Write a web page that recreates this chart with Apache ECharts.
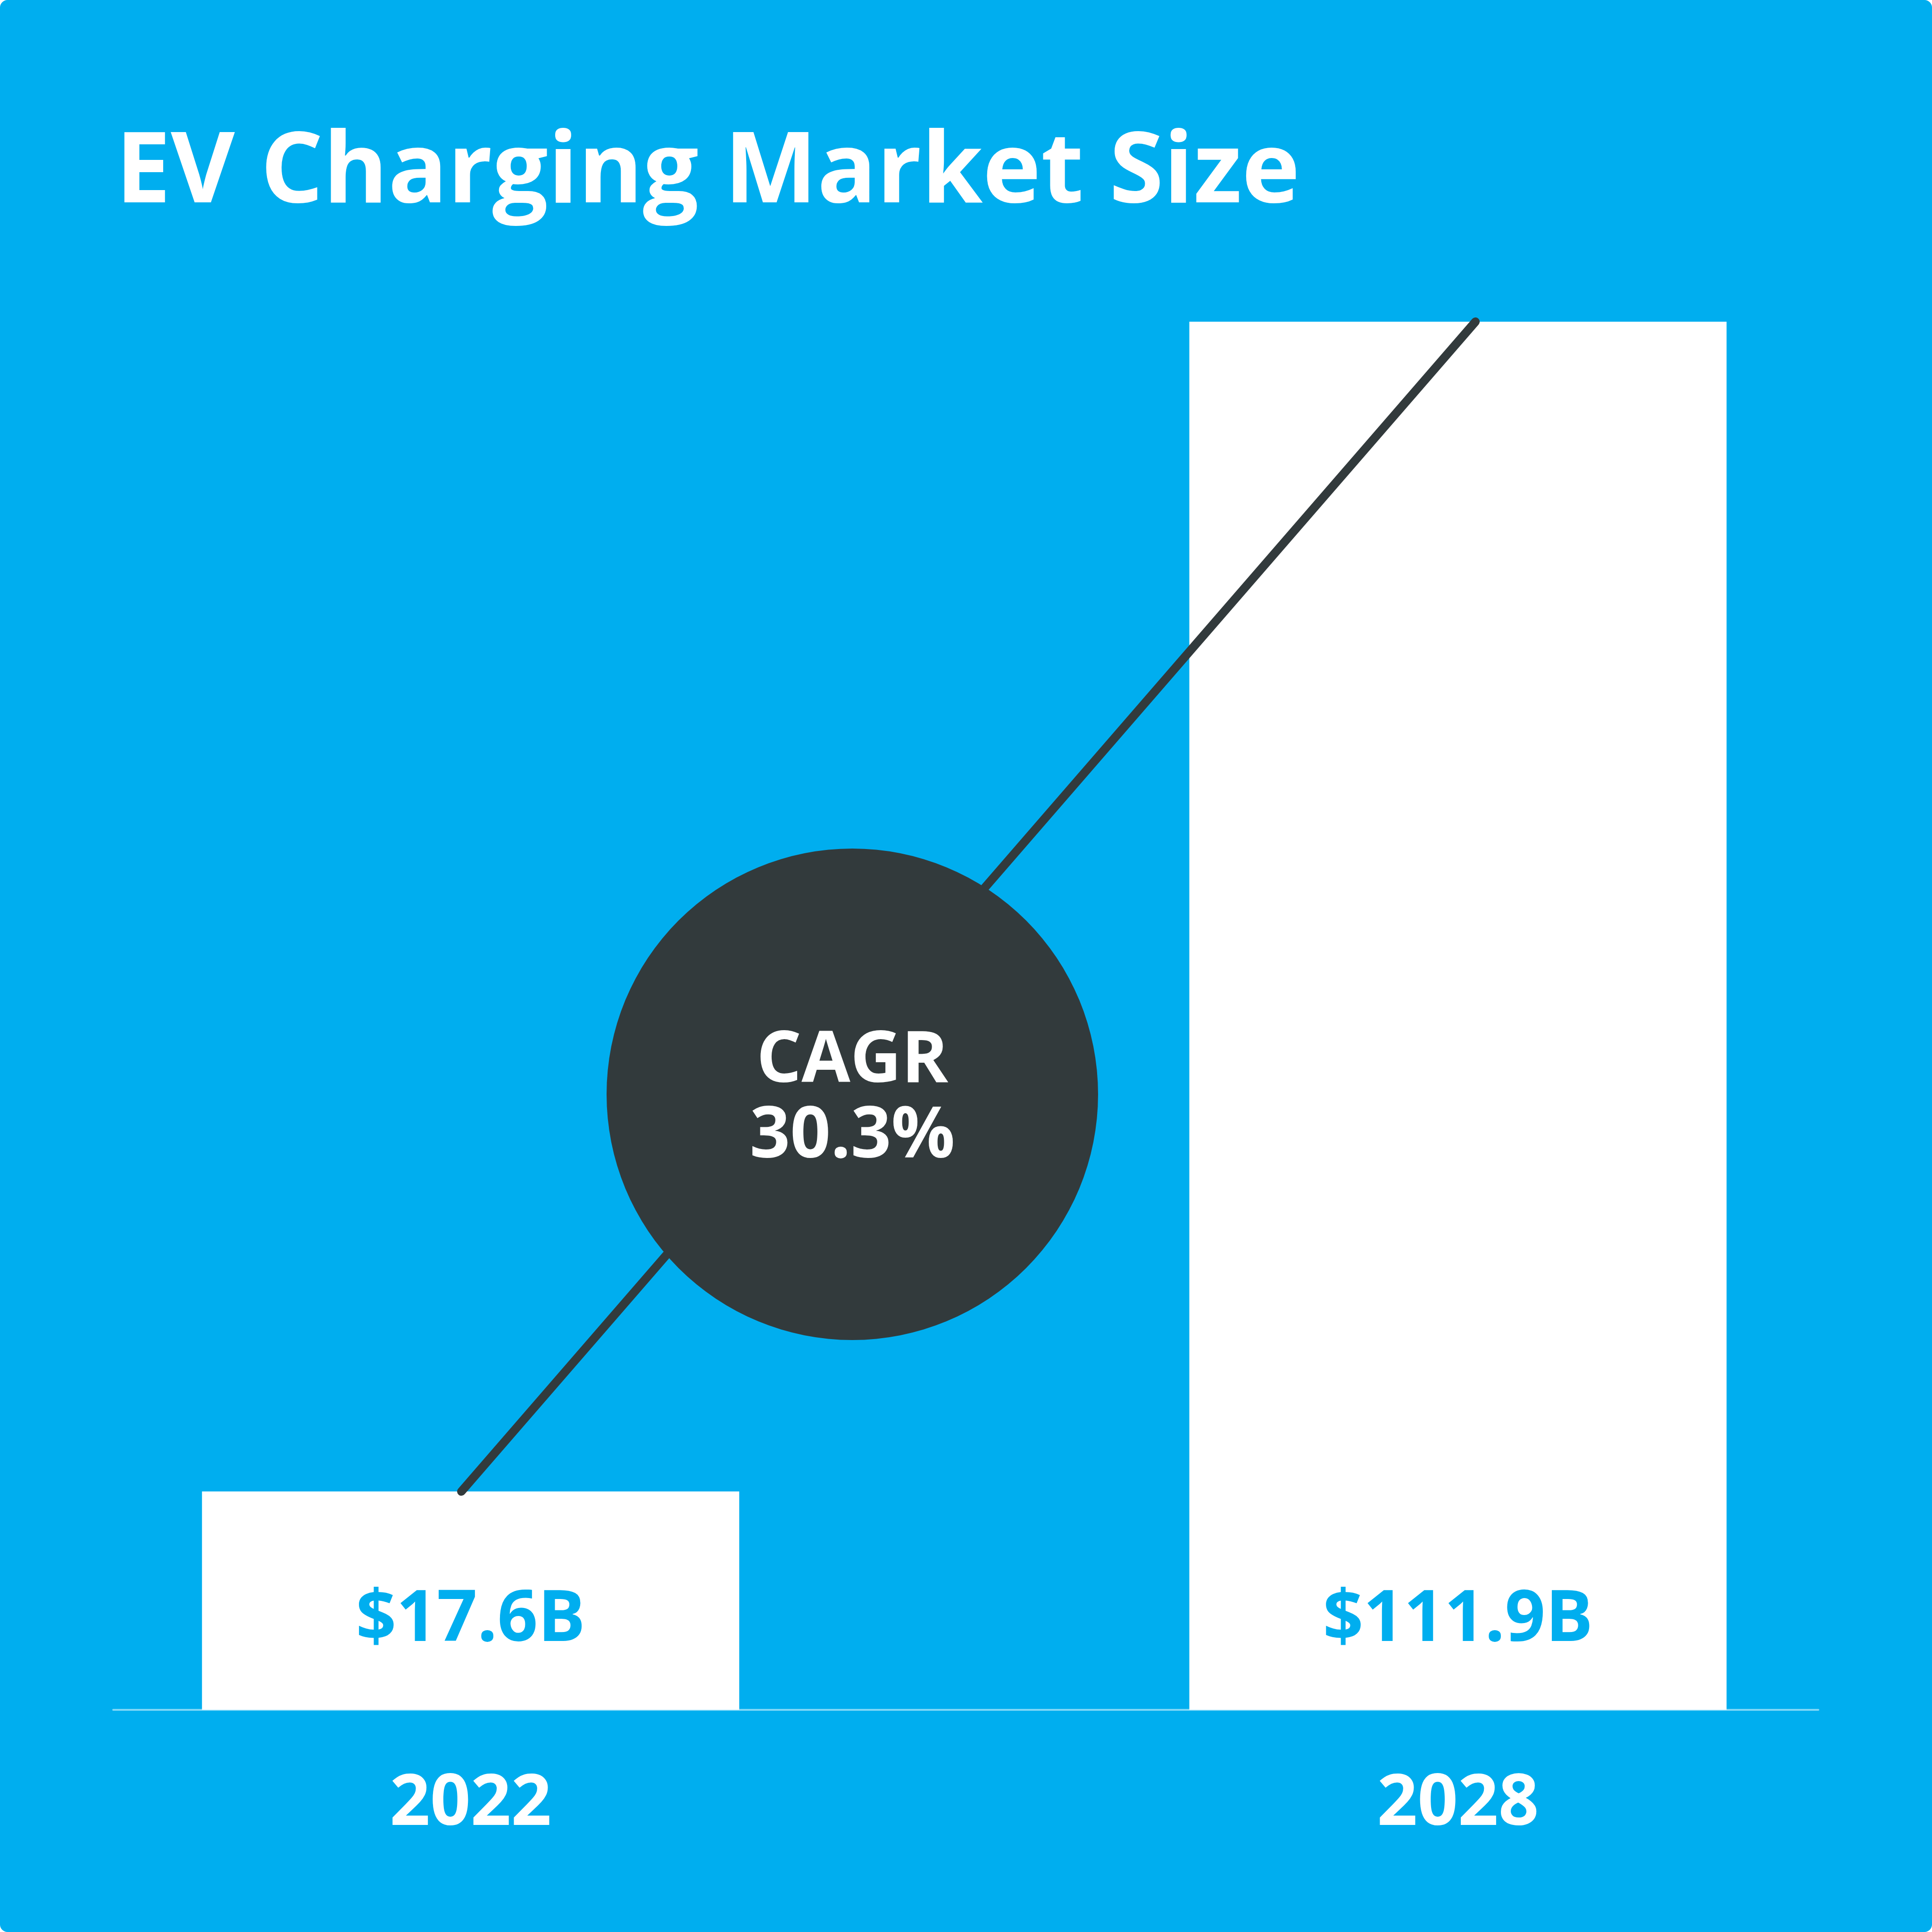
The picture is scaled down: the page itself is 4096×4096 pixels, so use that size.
<!DOCTYPE html>
<html>
<head>
<meta charset="utf-8">
<script src="https://cdn.jsdelivr.net/npm/echarts@6/dist/echarts.min.js"></script>
<style>
  html, body { margin: 0; padding: 0; background: #ffffff; }
  #chart { width: 4096px; height: 4096px; border-radius: 16px; overflow: hidden; }
</style>
</head>
<body>
<div id="chart"></div>
<script>
// ---- data ----
const chartTitle = 'EV Charging Market Size';
const years = ['2022', '2028'];
const marketSize = [17.6, 111.9];          // USD billions
const valueLabels = ['$17.6B', '$111.9B'];
const cagrText = ['CAGR', '30.3%'];

// ---- styles ----
const BLUE = '#00aeef';
const DARK = '#323a3c';
const FONT = '"Open Sans", "Noto Sans", sans-serif';

const chart = echarts.init(document.getElementById('chart'), null, { renderer: 'canvas' });

const barData = marketSize.map((v, i) => [i, v]);

chart.setOption({
  backgroundColor: BLUE,
  animation: false,
  title: {
    text: chartTitle,
    left: 240,
    top: 260,
    textStyle: { color: '#ffffff', fontFamily: FONT, fontWeight: 'bold', fontSize: 209 }
  },
  grid: { left: 240, right: 241, top: 682, bottom: 471, containLabel: false },
  xAxis: [
    {
      type: 'value',
      min: -0.362,
      max: 1.365,
      splitLine: { show: false },
      axisTick: { show: false },
      axisLine: { show: true, onZero: false, lineStyle: { color: 'rgba(255,255,255,0.5)', width: 4 } },
      axisLabel: {
        customValues: [0, 1],
        formatter: v => years[Math.round(v)] || '',
        color: '#ffffff',
        fontFamily: FONT,
        fontWeight: 'bold',
        fontSize: 150,
        margin: 126
      }
    },
    {
      // hidden axis for the trend line (slightly wider spacing than the bars)
      type: 'value',
      min: -0.3433,
      max: 1.3381,
      show: false
    }
  ],
  yAxis: {
    type: 'value',
    min: 0,
    max: 111.9,
    show: false,
    splitLine: { show: false }
  },
  series: [
    {
      type: 'bar',
      data: barData,
      barWidth: 1139,
      z: 2,
      itemStyle: { color: '#ffffff' },
      label: {
        show: true,
        position: 'insideBottom',
        distance: 114,
        formatter: p => valueLabels[p.dataIndex],
        color: BLUE,
        fontFamily: FONT,
        fontWeight: 'bold',
        fontSize: 150
      }
    },
    {
      type: 'line',
      xAxisIndex: 1,
      data: barData,
      z: 3,
      symbol: 'none',
      lineStyle: { color: DARK, width: 18, cap: 'round' }
    }
  ],
  graphic: [
    {
      type: 'circle',
      z: 100,
      shape: { cx: 1807, cy: 2320, r: 521 },
      style: { fill: DARK }
    },
    {
      type: 'text',
      z: 101,
      x: 1807,
      y: 2331,
      style: {
        text: cagrText.join('\n'),
        fill: '#ffffff',
        font: 'bold 150px ' + FONT,
        align: 'center',
        verticalAlign: 'middle',
        lineHeight: 160
      }
    }
  ]
});
</script>
</body>
</html>
